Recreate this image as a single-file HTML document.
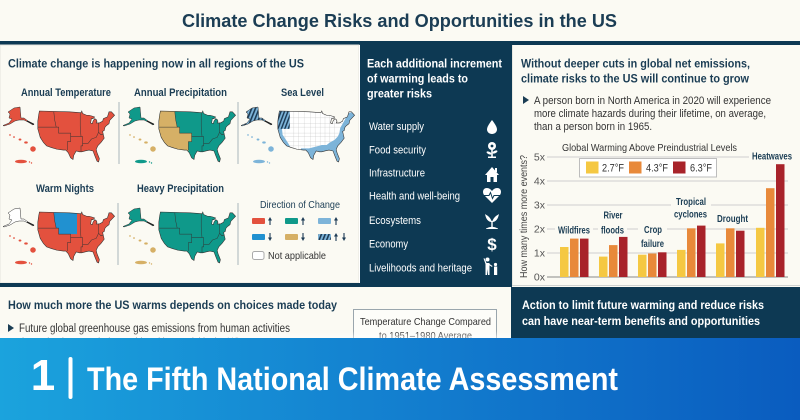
<!DOCTYPE html>
<html><head><meta charset="utf-8"><style>
html,body{margin:0;padding:0;background:#fbfaf3;}
svg{display:block;}
text{font-family:"Liberation Sans",Arial,sans-serif;}
</style></head><body>
<svg width="800" height="420" viewBox="0 0 800 420" xmlns="http://www.w3.org/2000/svg">
<defs>
 <path id="us" d="M3,0 L40,1 L55,2 L56,0 L57,3 L62,5 L65,5 L69,6 L72,7 L70,9 L68,9 L67,14 L69,15 L70,12 L72,9 L74,10 L75,12 L74,14 L78,14 L82,12 L83,9 L88,7 L90,1 L93,1 L97,5 L91,11 L90,15 L87,17 L85,19 L84,23 L82,24 L83,28 L84,32 L80,37 L76,41 L74,45 L75,49 L78,56 L77,60 L75,59 L72,52 L70,47 L65,46 L60,47 L56,48 L53,48 L49,47 L46,52 L45,57 L42,55 L39,49 L36,46 L33,46 L25,45 L18,43 L12,41 L8,37 L4,31 L1,21 L1,12 L2,5 Z"/>
 <clipPath id="usc"><path d="M3,0 L40,1 L55,2 L56,0 L57,3 L62,5 L65,5 L69,6 L72,7 L70,9 L68,9 L67,14 L69,15 L70,12 L72,9 L74,10 L75,12 L74,14 L78,14 L82,12 L83,9 L88,7 L90,1 L93,1 L97,5 L91,11 L90,15 L87,17 L85,19 L84,23 L82,24 L83,28 L84,32 L80,37 L76,41 L74,45 L75,49 L78,56 L77,60 L75,59 L72,52 L70,47 L65,46 L60,47 L56,48 L53,48 L49,47 L46,52 L45,57 L42,55 L39,49 L36,46 L33,46 L25,45 L18,43 L12,41 L8,37 L4,31 L1,21 L1,12 L2,5 Z"/></clipPath>
 <path id="reg" d="M21,1 L22,10 L24,19 M1,19 L27,19 L27,26 L42,26 L42,30 L57,30 M42,30 L42,36 L38,36 L38,46 M54,2 L54,18 L55,30 M57,30 L57,41 L55,41 L55,48 M57,38 L64,38 L68,33 L74,31 L77,25 M77,14 L77,25 L80,28 L83,27"/>
 <path id="ak" d="M14,108 L20,107 L21,118 L24,118 L28,121 L34,124 L33,125 L28,122 L24,120 L19,120 L15,121 L10,124 L4,126 L3,125.5 L9,123 L12,119 L9,118 L10,114 L8,112 L11,110 Z"/>
 <g id="hi">
  <ellipse cx="10" cy="135" rx="0.9" ry="0.7"/>
  <ellipse cx="14" cy="137" rx="1" ry="0.8"/>
  <ellipse cx="20" cy="139.5" rx="1.4" ry="1"/>
  <ellipse cx="26" cy="142.5" rx="1.8" ry="1.1"/>
  <ellipse cx="33" cy="149" rx="2.8" ry="2.7"/>
 </g>
 <g id="pr">
  <ellipse cx="21" cy="161.5" rx="6" ry="1.8"/>
  <circle cx="29.5" cy="162" r="0.7"/>
  <circle cx="31.5" cy="163" r="0.7"/>
 </g>
 <pattern id="hatch" patternUnits="userSpaceOnUse" width="4" height="4" patternTransform="rotate(22)">
  <rect width="4" height="4" fill="#7db4d9"/><rect width="1.8" height="4" fill="#1d3b55"/>
 </pattern>
 <pattern id="hatch2" patternUnits="userSpaceOnUse" width="3.5" height="3.5" patternTransform="rotate(22)">
  <rect width="3.5" height="3.5" fill="#7db4d9"/><rect width="1.6" height="3.5" fill="#1d3b55"/>
 </pattern>
 <linearGradient id="ban" x1="0" y1="0" x2="1" y2="0">
  <stop offset="0" stop-color="#1ba3dd"/><stop offset="0.5" stop-color="#137fcf"/><stop offset="1" stop-color="#0a5cbf"/>
 </linearGradient>
 <linearGradient id="fade" x1="0" y1="0" x2="0" y2="1">
  <stop offset="0" stop-color="#ffffff" stop-opacity="0"/><stop offset="1" stop-color="#ffffff" stop-opacity="0.5"/>
 </linearGradient>
</defs>

<rect x="0" y="0" width="800" height="420" fill="#fbfaf3"/>

<text x="399.5" y="27" text-anchor="middle" font-size="18" font-weight="bold" fill="#1b3d54" textLength="435" lengthAdjust="spacingAndGlyphs">Climate Change Risks and Opportunities in the US</text>

<rect x="0" y="41" width="800" height="4" fill="#0d3953"/>

<rect x="0" y="45" width="359" height="238" fill="#fbfaf3" stroke="#e4e4dc" stroke-width="1"/>
<rect x="0" y="283" width="512" height="4" fill="#0d3953"/>

<rect x="360" y="41" width="151" height="246" fill="#0d3953"/>
<line x1="359.5" y1="45" x2="359.5" y2="283" stroke="#ffffff" stroke-width="1"/>

<rect x="505" y="41" width="7" height="246" fill="#0d3953"/>
<rect x="512" y="45" width="288" height="241" fill="#fbfaf3"/>
<line x1="512.5" y1="45" x2="512.5" y2="286" stroke="#e8e8e0" stroke-width="1"/>
<line x1="512" y1="285.5" x2="800" y2="285.5" stroke="#cfd2d0" stroke-width="1"/>

<rect x="511" y="287" width="289" height="55" fill="#0d3953"/>

<text x="8" y="67.5" font-size="12" font-weight="bold" fill="#1b3d54" textLength="296" lengthAdjust="spacingAndGlyphs">Climate change is happening now in all regions of the US</text>

<text x="66" y="96" text-anchor="middle" font-size="11" font-weight="bold" fill="#1b3d54" textLength="90" lengthAdjust="spacingAndGlyphs">Annual Temperature</text>
<text x="180.5" y="96" text-anchor="middle" font-size="11" font-weight="bold" fill="#1b3d54" textLength="93" lengthAdjust="spacingAndGlyphs">Annual Precipitation</text>
<text x="302.5" y="96" text-anchor="middle" font-size="11" font-weight="bold" fill="#1b3d54" textLength="43" lengthAdjust="spacingAndGlyphs">Sea Level</text>
<text x="65" y="192" text-anchor="middle" font-size="11" font-weight="bold" fill="#1b3d54" textLength="58" lengthAdjust="spacingAndGlyphs">Warm Nights</text>
<text x="180.5" y="192" text-anchor="middle" font-size="11" font-weight="bold" fill="#1b3d54" textLength="87" lengthAdjust="spacingAndGlyphs">Heavy Precipitation</text>

<g stroke="#a9b5bb" stroke-width="1">
 <line x1="119" y1="102" x2="119" y2="164"/>
 <line x1="238" y1="102" x2="238" y2="164"/>
 <line x1="118" y1="203" x2="118" y2="265"/>
 <line x1="238" y1="203" x2="238" y2="265"/>
</g>

<g transform="translate(37,111) scale(0.8,0.85)">
 <use href="#us" fill="#e3513e" stroke="#333" stroke-width="0.7"/>
 <use href="#reg" fill="none" stroke="#333" stroke-width="0.6"/>
</g>
<use href="#ak" fill="#e3513e" stroke="#333" stroke-width="0.5"/>
<line x1="27" y1="121" x2="34" y2="124.5" stroke="#222" stroke-width="1.2"/>
<use href="#hi" fill="#e3513e"/>
<use href="#pr" fill="#e3513e"/>

<g transform="translate(158,111) scale(0.8,0.85)">
 <use href="#us" fill="#0f998a"/>
 <path d="M0,0 L21,0 L22,10 L24,19 L27,19 L27,26 L42,26 L42,36 L38,36 L38,47 L30,47 L0,47 Z" fill="#d6b066" clip-path="url(#usc)"/>
 <use href="#us" fill="none" stroke="#333" stroke-width="0.7"/>
 <use href="#reg" fill="none" stroke="#333" stroke-width="0.6"/>
</g>
<g transform="translate(120,0)">
 <use href="#ak" fill="#0f998a" stroke="#333" stroke-width="0.5"/>
 <line x1="27" y1="121" x2="34" y2="124.5" stroke="#222" stroke-width="1.2"/>
 <use href="#hi" fill="#d6b066"/>
 <use href="#pr" fill="#0f998a"/>
</g>

<g transform="translate(277,111) scale(0.8,0.85)">
 <use href="#us" fill="#ffffff"/>
 <g clip-path="url(#usc)">
  <path d="M10,0 V47 M21,0 V47 M27,0 V47 M34,0 V47 M42,0 V47 M48,0 V47 M54,0 V47 M60,0 V47 M66,0 V47 M72,0 V47 M0,8 H90 M0,15 H90 M0,19 H90 M0,26 H90 M0,30 H90 M0,36 H90 M0,41 H90" stroke="#c2c2c2" stroke-width="0.35" fill="none"/>
  <path d="M0,19 L6,19 L7,28 L14,38 L17,43 L12,43 L0,30 Z" fill="#7db4d9"/>
  <path d="M30,44 L40,44 L48,42 L56,40 L62,40 L66,37 L72,34 L76,30 L78,26 L79,20 L82,15 L85,10 L88,3 L100,0 L100,62 L30,62 Z" fill="#7db4d9"/>
  <path d="M0,0 L16,0 L16,21 L0,21 Z" fill="url(#hatch)"/>
 </g>
 <use href="#us" fill="none" stroke="#333" stroke-width="0.7"/>
</g>
<g transform="translate(238,0)">
 <use href="#ak" fill="url(#hatch2)" stroke="#333" stroke-width="0.5"/>
 <line x1="27" y1="121" x2="34" y2="124.5" stroke="#222" stroke-width="1.2"/>
 <use href="#hi" fill="#7db4d9"/>
 <use href="#pr" fill="#7db4d9"/>
</g>

<g transform="translate(37,212) scale(0.8,0.85)">
 <use href="#us" fill="#e3513e"/>
 <path d="M21,0 L50,0 L50,26 L27,26 L27,19 L24,19 L22,10 Z" fill="#2191d0" clip-path="url(#usc)"/>
 <use href="#us" fill="none" stroke="#333" stroke-width="0.7"/>
 <use href="#reg" fill="none" stroke="#333" stroke-width="0.6"/>
</g>
<g transform="translate(0,101)">
 <use href="#ak" fill="#ffffff" stroke="#333" stroke-width="0.5"/>
 <line x1="27" y1="121" x2="34" y2="124.5" stroke="#222" stroke-width="1.2"/>
 <use href="#hi" fill="#e3513e"/>
 <use href="#pr" fill="#e3513e"/>
</g>

<g transform="translate(158,212) scale(0.8,0.85)">
 <use href="#us" fill="#0f998a" stroke="#333" stroke-width="0.7"/>
 <use href="#reg" fill="none" stroke="#333" stroke-width="0.6"/>
</g>
<g transform="translate(120,101)">
 <use href="#ak" fill="#0f998a" stroke="#333" stroke-width="0.5"/>
 <line x1="27" y1="121" x2="34" y2="124.5" stroke="#222" stroke-width="1.2"/>
 <use href="#hi" fill="#d6b066"/>
 <use href="#pr" fill="#d6b066"/>
</g>

<text x="300" y="208" text-anchor="middle" font-size="10.5" fill="#1b3d54" textLength="80" lengthAdjust="spacingAndGlyphs">Direction of Change</text>
<rect x="252" y="218" width="13" height="6" rx="1" fill="#e3513e"/>
<rect x="285" y="218" width="13" height="6" rx="1" fill="#0f998a"/>
<rect x="318" y="218" width="13" height="6" rx="1" fill="#7db4d9"/>
<rect x="252" y="234" width="13" height="6" rx="1" fill="#2191d0"/>
<rect x="285" y="234" width="13" height="6" rx="1" fill="#d6b066"/>
<rect x="318" y="234" width="13" height="6" rx="1" fill="url(#hatch2)"/>
<g fill="#1d3b55" stroke="#1d3b55" stroke-width="1.1">
 <line x1="270" y1="225" x2="270" y2="219"/><path d="M268,220.5 L270,217 L272,220.5 Z" stroke="none"/>
 <line x1="303" y1="225" x2="303" y2="219"/><path d="M301,220.5 L303,217 L305,220.5 Z" stroke="none"/>
 <line x1="336" y1="225" x2="336" y2="219"/><path d="M334,220.5 L336,217 L338,220.5 Z" stroke="none"/>
 <line x1="270" y1="233" x2="270" y2="239"/><path d="M268,237.5 L270,241 L272,237.5 Z" stroke="none"/>
 <line x1="303" y1="233" x2="303" y2="239"/><path d="M301,237.5 L303,241 L305,237.5 Z" stroke="none"/>
 <line x1="336" y1="241" x2="336" y2="235"/><path d="M334,236.5 L336,233 L338,236.5 Z" stroke="none"/>
 <line x1="344" y1="233" x2="344" y2="239"/><path d="M342,237.5 L344,241 L346,237.5 Z" stroke="none"/>
</g>
<rect x="252.5" y="251.5" width="11.5" height="8" rx="2" fill="#ffffff" stroke="#aaa" stroke-width="1"/>
<text x="268" y="259" font-size="10.5" fill="#333" textLength="58" lengthAdjust="spacingAndGlyphs">Not applicable</text>

<g fill="#ffffff" font-weight="bold" font-size="11.5">
 <text x="367" y="67.3" textLength="135" lengthAdjust="spacingAndGlyphs">Each additional increment</text>
 <text x="367" y="82.3" textLength="101" lengthAdjust="spacingAndGlyphs">of warming leads to</text>
 <text x="367" y="97.3" textLength="65" lengthAdjust="spacingAndGlyphs">greater risks</text>
</g>
<g fill="#ffffff" font-size="11">
 <text x="369" y="130" textLength="55" lengthAdjust="spacingAndGlyphs">Water supply</text>
 <text x="369" y="153.3" textLength="57" lengthAdjust="spacingAndGlyphs">Food security</text>
 <text x="369" y="176.7" textLength="56" lengthAdjust="spacingAndGlyphs">Infrastructure</text>
 <text x="369" y="199.3" textLength="91" lengthAdjust="spacingAndGlyphs">Health and well-being</text>
 <text x="369" y="224" textLength="52" lengthAdjust="spacingAndGlyphs">Ecosystems</text>
 <text x="369" y="247.3" textLength="39" lengthAdjust="spacingAndGlyphs">Economy</text>
 <text x="369" y="271.3" textLength="103" lengthAdjust="spacingAndGlyphs">Livelihoods and heritage</text>
</g>
<g fill="#ffffff">
 <path d="M492,120 C489,124 487,127 487,129.5 C487,132 489.3,134 492,134 C494.7,134 497,132 497,129.5 C497,127 495,124 492,120 Z"/>
 <circle cx="492" cy="146" r="4"/>
 <rect x="491.2" y="149" width="1.6" height="8"/>
 <ellipse cx="489" cy="153" rx="2.6" ry="1.2" transform="rotate(25 489 153)"/>
 <ellipse cx="495" cy="152" rx="2.6" ry="1.2" transform="rotate(-25 495 152)"/>
 <rect x="488" y="156.5" width="8" height="1.5"/>
 <path d="M485,175 L492,167 L499,175 L497,175 L497,182 L487,182 L487,175 Z"/>
 <rect x="495" y="168" width="2" height="4"/>
 <path d="M492,203 L484,195 C482,192 483,188 487,188 C489,188 491,189.5 492,191 C493,189.5 495,188 497,188 C501,188 502,192 500,195 Z"/>
 <path d="M492,222 C490,216 486,215 485,214 C486,219 488,222 492,222 Z"/>
 <path d="M492,222 C494,216 498,215 499,214 C498,219 496,222 492,222 Z"/>
 <rect x="491.3" y="221" width="1.4" height="7"/>
 <path d="M486,228.5 Q492,225 498,228.5 L498,229 L486,229 Z"/>
 <text x="492" y="250" text-anchor="middle" font-size="17" font-weight="bold">$</text>
 <circle cx="487.5" cy="259.5" r="2"/>
 <path d="M485.5,263 L489.5,263 L489.5,275 L488,275 L487.5,269 L487,275 L485.5,275 Z"/>
 <path d="M485.5,264 L483.5,258.5 L484.5,258.2 L486.5,263 Z"/>
 <path d="M489.5,264 L492.5,266 L492,267 L489,265 Z"/>
 <circle cx="495.5" cy="264.5" r="1.6"/>
 <rect x="494" y="266.5" width="3.2" height="8.5"/>
</g>
<circle cx="492" cy="146" r="1.4" fill="#0d3953"/>
<rect x="490.5" y="177" width="3" height="5" fill="#0d3953"/>
<path d="M484,195.5 L489,195.5 L490.5,192.5 L492.5,198.5 L494,195.5 L500,195.5" fill="none" stroke="#0d3953" stroke-width="1"/>

<g fill="#1b3d54" font-weight="bold" font-size="12">
 <text x="521" y="67.3" textLength="229" lengthAdjust="spacingAndGlyphs">Without deeper cuts in global net emissions,</text>
 <text x="521" y="82.3" textLength="228" lengthAdjust="spacingAndGlyphs">climate risks to the US will continue to grow</text>
</g>
<path d="M523,96 L529,100 L523,104 Z" fill="#1b3d54"/>
<g fill="#333" font-size="11">
 <text x="534" y="104" textLength="237" lengthAdjust="spacingAndGlyphs">A person born in North America in 2020 will experience</text>
 <text x="534" y="117" textLength="232" lengthAdjust="spacingAndGlyphs">more climate hazards during their lifetime, on average,</text>
 <text x="534" y="130" textLength="118" lengthAdjust="spacingAndGlyphs">than a person born in 1965.</text>
</g>

<text x="649.5" y="151" text-anchor="middle" font-size="10.5" fill="#333" textLength="175" lengthAdjust="spacingAndGlyphs">Global Warming Above Preindustrial Levels</text>
<text transform="translate(527,216.5) rotate(-90)" text-anchor="middle" font-size="10.5" fill="#444" textLength="123" lengthAdjust="spacingAndGlyphs">How many times more events?</text>
<g stroke="#cfcfcf" stroke-width="1">
 <line x1="547" y1="157" x2="788" y2="157"/>
 <line x1="547" y1="181" x2="788" y2="181"/>
 <line x1="547" y1="205" x2="788" y2="205"/>
 <line x1="547" y1="229" x2="788" y2="229"/>
 <line x1="547" y1="253" x2="788" y2="253"/>
</g>
<line x1="547" y1="277" x2="788" y2="277" stroke="#8a8a8a" stroke-width="1"/>
<g fill="#555" font-size="10.5" text-anchor="end">
 <text x="545" y="160.5">5x</text>
 <text x="545" y="184.5">4x</text>
 <text x="545" y="208.5">3x</text>
 <text x="545" y="232.5">2x</text>
 <text x="545" y="256.5">1x</text>
 <text x="545" y="280.5">0x</text>
</g>

<rect x="579.5" y="158.5" width="137" height="18.5" fill="#ffffff" stroke="#bdbdbd" stroke-width="1"/>
<rect x="586" y="161.5" width="12.5" height="12" fill="#f5c842"/>
<rect x="629" y="161.5" width="12.5" height="12" fill="#e8893a"/>
<rect x="673" y="161.5" width="12.5" height="12" fill="#a8232a"/>
<g fill="#333" font-size="11">
 <text x="602" y="171.5" textLength="22" lengthAdjust="spacingAndGlyphs">2.7°F</text>
 <text x="646" y="171.5" textLength="22" lengthAdjust="spacingAndGlyphs">4.3°F</text>
 <text x="690" y="171.5" textLength="22" lengthAdjust="spacingAndGlyphs">6.3°F</text>
</g>

<g fill="#fbfaf3">
 <rect x="555" y="224" width="38" height="12"/>
 <rect x="598" y="224" width="29" height="12"/>
 <rect x="638" y="224" width="29" height="12"/>
 <rect x="671" y="196" width="40" height="12"/>
 <rect x="749" y="150" width="45" height="12"/>
</g>

<g>
 <rect x="560" y="247" width="8.5" height="30" fill="#f5c842"/>
 <rect x="570" y="238.6" width="8.5" height="38.4" fill="#e8893a"/>
 <rect x="580" y="238.6" width="8.5" height="38.4" fill="#a8232a"/>
 <rect x="599" y="256.6" width="8.5" height="20.4" fill="#f5c842"/>
 <rect x="609" y="245.1" width="8.5" height="31.9" fill="#e8893a"/>
 <rect x="619" y="236.9" width="8.5" height="40.1" fill="#a8232a"/>
 <rect x="638" y="254.7" width="8.5" height="22.3" fill="#f5c842"/>
 <rect x="648" y="253.5" width="8.5" height="23.5" fill="#e8893a"/>
 <rect x="658" y="252.3" width="8.5" height="24.7" fill="#a8232a"/>
 <rect x="677" y="249.9" width="8.5" height="27.1" fill="#f5c842"/>
 <rect x="687" y="228.3" width="8.5" height="48.7" fill="#e8893a"/>
 <rect x="697" y="225.6" width="8.5" height="51.4" fill="#a8232a"/>
 <rect x="716" y="243.4" width="8.5" height="33.6" fill="#f5c842"/>
 <rect x="726" y="228.3" width="8.5" height="48.7" fill="#e8893a"/>
 <rect x="736" y="230.7" width="8.5" height="46.3" fill="#a8232a"/>
 <rect x="756" y="227.8" width="8.5" height="49.2" fill="#f5c842"/>
 <rect x="766" y="188.2" width="8.5" height="88.8" fill="#e8893a"/>
 <rect x="776" y="164.2" width="8.5" height="112.8" fill="#a8232a"/>
</g>

<g fill="#1b3d54" font-weight="bold" font-size="10" text-anchor="middle">
 <text x="574" y="233.5" textLength="32" lengthAdjust="spacingAndGlyphs">Wildfires</text>
 <text x="613" y="218.5" textLength="19" lengthAdjust="spacingAndGlyphs">River</text>
 <text x="612.5" y="233.5" textLength="23" lengthAdjust="spacingAndGlyphs">floods</text>
 <text x="653" y="233" textLength="18" lengthAdjust="spacingAndGlyphs">Crop</text>
 <text x="652.5" y="247" textLength="23" lengthAdjust="spacingAndGlyphs">failure</text>
 <text x="691" y="205" textLength="30" lengthAdjust="spacingAndGlyphs">Tropical</text>
 <text x="690.5" y="217.5" textLength="33" lengthAdjust="spacingAndGlyphs">cyclones</text>
 <text x="732.5" y="222" textLength="31" lengthAdjust="spacingAndGlyphs">Drought</text>
 <text x="772" y="159.5" textLength="40" lengthAdjust="spacingAndGlyphs">Heatwaves</text>
</g>

<text x="8" y="309" font-size="12" font-weight="bold" fill="#1b3d54" textLength="329" lengthAdjust="spacingAndGlyphs">How much more the US warms depends on choices made today</text>
<path d="M8,324 L14,328 L8,332 Z" fill="#1b3d54"/>
<text x="19" y="332" font-size="11.5" fill="#333" textLength="271" lengthAdjust="spacingAndGlyphs">Future global greenhouse gas emissions from human activities</text>
<text x="19" y="346" font-size="11.5" fill="#333" opacity="0.6" textLength="250" lengthAdjust="spacingAndGlyphs">determine how much the world and how quickly the US warms</text>
<rect x="353.5" y="309.5" width="143" height="40" fill="#fdfdf9" stroke="#9aa6ad" stroke-width="1"/>
<text x="425.5" y="325" text-anchor="middle" font-size="10.5" fill="#333" textLength="131" lengthAdjust="spacingAndGlyphs">Temperature Change Compared</text>
<text x="425.5" y="339" text-anchor="middle" font-size="10.5" fill="#333" textLength="93" lengthAdjust="spacingAndGlyphs">to 1951–1980 Average</text>

<g fill="#ffffff" font-weight="bold" font-size="12">
 <text x="522" y="309" textLength="242" lengthAdjust="spacingAndGlyphs">Action to limit future warming and reduce risks</text>
 <text x="522" y="325" textLength="238" lengthAdjust="spacingAndGlyphs">can have near-term benefits and opportunities</text>
</g>

<rect x="0" y="331" width="511" height="7" fill="url(#fade)"/>

<rect x="0" y="338" width="800" height="82" fill="url(#ban)"/>
<text x="43" y="390" text-anchor="middle" font-size="44" font-weight="bold" fill="#ffffff">1</text>
<rect x="68.5" y="357" width="4" height="42" rx="2" fill="#ffffff"/>
<text x="87" y="390" font-size="32" font-weight="bold" fill="#ffffff" textLength="531" lengthAdjust="spacingAndGlyphs">The Fifth National Climate Assessment</text>
</svg>
</body></html>
